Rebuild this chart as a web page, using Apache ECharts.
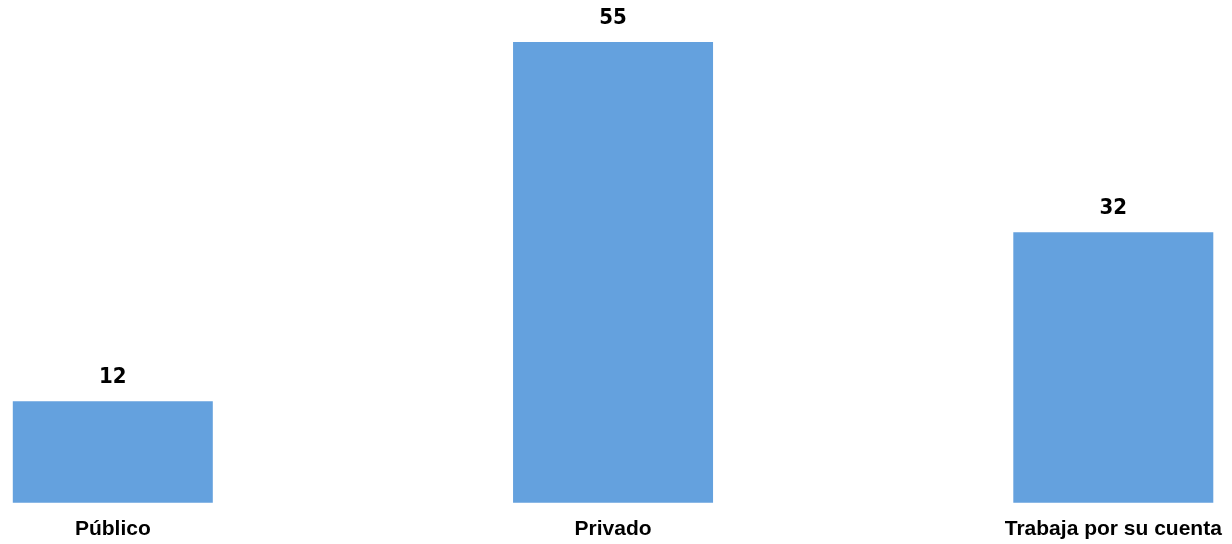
<!DOCTYPE html>
<html>
<head>
<meta charset="utf-8">
<script src="https://cdn.jsdelivr.net/npm/echarts@6/dist/echarts.min.js"></script>
<style>
html,body{margin:0;padding:0;background:#fff;}
#c{width:1232px;height:544px;}
</style>
</head>
<body>
<div id="c"></div>
<script>
const categories = ['Público', 'Privado', 'Trabaja por su cuenta'];
const values = [12, 54.5, 32];

const chart = echarts.init(document.getElementById('c'), null, {renderer: 'canvas'});
chart.setOption({
  backgroundColor: '#ffffff',
  animation: false,
  grid: {left: 112.8, right: 118.7, top: 37.8, bottom: 41.3, containLabel: false},
  xAxis: {
    type: 'category',
    data: categories,
    boundaryGap: false,
    axisLine: {show: false},
    axisTick: {show: false},
    splitLine: {show: false},
    axisLabel: {
      interval: 0,
      margin: 16,
      color: '#000000',
      fontFamily: '"Liberation Sans", Arial, sans-serif',
      fontWeight: 'bold',
      fontSize: 21
    }
  },
  yAxis: {
    type: 'value',
    min: 0,
    max: 55,
    show: false,
    splitLine: {show: false}
  },
  series: [{
    type: 'bar',
    data: values,
    barWidth: 200,
    clip: false,
    itemStyle: {color: '#64a1de'},
    label: {
      show: true,
      position: 'top',
      distance: 13,
      color: '#000000',
      fontFamily: '"Liberation Sans Narrow", "Arial Narrow", "DejaVu Sans Condensed", sans-serif',
      fontWeight: 'bold',
      fontSize: 22,
      formatter: p => String(Math.round(p.value))
    }
  }]
});
</script>
</body>
</html>
